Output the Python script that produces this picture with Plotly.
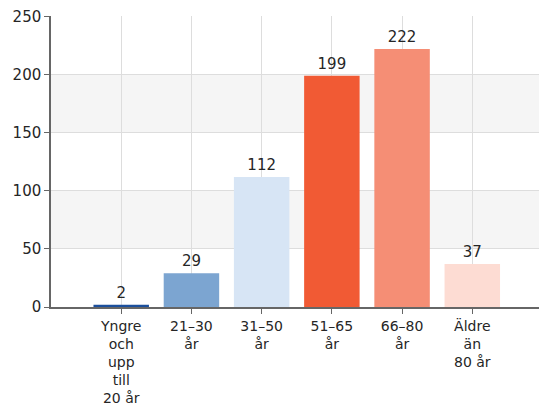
import plotly.graph_objects as go

categories = ["Yngre<br>och<br>upp<br>till<br>20 år", "21–30<br>år", "31–50<br>år", "51–65<br>år", "66–80<br>år", "Äldre<br>än<br>80 år"]
values = [2, 29, 112, 199, 222, 37]
colors = ["#1c4f9c", "#7ca5d1", "#d7e5f5", "#f15a34", "#f58e75", "#fddcd3"]
ytick_vals = [0, 50, 100, 150, 200, 250]

FONT = "DejaVu Sans, Verdana, Arial"

fig = go.Figure()
fig.add_trace(go.Bar(
    x=list(range(len(categories))), y=values,
    marker=dict(color=colors, line=dict(width=0)),
    width=0.79,
    text=[str(v) for v in values], textposition="outside",
    textfont=dict(family=FONT, size=15, color="#262626"),
    cliponaxis=False,
))

shapes = []
for lo, hi in [(50, 100), (150, 200)]:
    shapes.append(dict(type="rect", xref="paper", yref="y", x0=0, x1=1, y0=lo, y1=hi,
                       fillcolor="#f5f5f5", line=dict(width=0), layer="below"))

fig.update_layout(
    width=539, height=405,
    margin=dict(l=51, r=0, t=16, b=98, autoexpand=False),
    paper_bgcolor="white", plot_bgcolor="white",
    showlegend=False,
    shapes=shapes,
    font=dict(family=FONT, size=14, color="#262626"),
    xaxis=dict(
        tickmode="array", tickvals=list(range(len(categories))), ticktext=categories,
        range=[-1, 5.95], showgrid=True, gridcolor="#dddddd", gridwidth=1,
        showline=True, linecolor="#666666", linewidth=1.5,
        ticks="outside", ticklen=5, tickcolor="#666666",
        tickfont=dict(family=FONT, size=14, color="#262626"), zeroline=False,
        automargin=False,
    ),
    yaxis=dict(
        tickmode="array", tickvals=ytick_vals, range=[0, 250.5],
        showgrid=True, gridcolor="#dddddd", gridwidth=1,
        showline=True, linecolor="#666666", linewidth=1.5,
        ticks="outside", ticklen=5, tickcolor="#666666",
        tickfont=dict(family=FONT, size=15, color="#262626"), zeroline=False,
        automargin=False,
    ),
)

fig.write_html("out.html", config={"displayModeBar": False},
               post_script="document.body.style.margin='0px';")
